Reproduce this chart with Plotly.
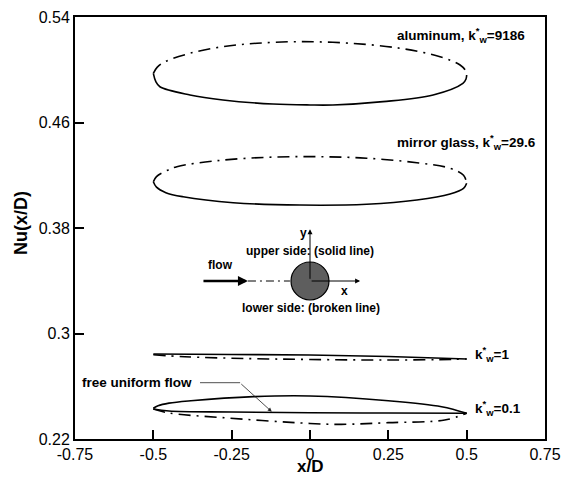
import plotly.graph_objects as go

# Local Nusselt number along the wall, upper (solid) and lower (broken) sides
alu_up_x = [-0.5, -0.488, -0.463, -0.383, -0.278, -0.169, -0.032, 0.128, 0.287, 0.415, 0.479, 0.496, 0.5]
alu_up_y = [0.4973, 0.5018, 0.5061, 0.5125, 0.5175, 0.5201, 0.5213, 0.5201, 0.5163, 0.5099, 0.5036, 0.4995, 0.4960]
alu_lo_x = [-0.5, -0.492, -0.479, -0.383, -0.278, -0.118, 0.0, 0.073, 0.233, 0.393, 0.488, 0.498, 0.5]
alu_lo_y = [0.4973, 0.4910, 0.4871, 0.4809, 0.4771, 0.4740, 0.4733, 0.4733, 0.4758, 0.4809, 0.4897, 0.4930, 0.4960]

gl_up_x = [-0.5, -0.49, -0.46, -0.425, -0.298, -0.138, 0.021, 0.181, 0.341, 0.447, 0.49, 0.5]
gl_up_y = [0.4151, 0.4190, 0.4232, 0.4265, 0.4310, 0.4336, 0.4341, 0.4329, 0.4295, 0.4253, 0.4200, 0.4139]
gl_lo_x = [-0.5, -0.49, -0.46, -0.405, -0.245, -0.032, 0.181, 0.341, 0.447, 0.49, 0.5]
gl_lo_y = [0.4151, 0.4110, 0.4068, 0.4037, 0.3992, 0.3974, 0.3980, 0.4012, 0.4058, 0.4100, 0.4139]

k1_up_x = [-0.5, -0.25, 0.0, 0.25, 0.5]
k1_up_y = [0.2845, 0.2841, 0.2837, 0.2826, 0.2807]
k1_lo_x = [-0.5, -0.4, -0.2, 0.0, 0.25, 0.45, 0.5]
k1_lo_y = [0.2839, 0.2824, 0.2810, 0.2803, 0.2799, 0.2803, 0.2807]

k01_up_x = [-0.5, -0.485, -0.45, -0.38, -0.18, 0.0, 0.25, 0.42, 0.5]
k01_up_y = [0.2433, 0.2452, 0.2472, 0.2490, 0.2521, 0.2526, 0.2490, 0.2445, 0.2395]
k01_lo_x = [-0.5, -0.45, -0.28, 0.0, 0.1, 0.25, 0.43, 0.5]
k01_lo_y = [0.2427, 0.2397, 0.2362, 0.2318, 0.2311, 0.2324, 0.2344, 0.2395]

free_x = [-0.5, -0.45, -0.25, 0.0, 0.25, 0.5]
free_y = [0.2427, 0.2412, 0.2405, 0.2399, 0.2397, 0.2395]

x_ticks = [-0.75, -0.5, -0.25, 0, 0.25, 0.5, 0.75]
x_ticktext = ["-0.75", "-0.5", "-0.25", "0", "0.25", "0.5", "0.75"]
y_ticks = [0.22, 0.3, 0.38, 0.46, 0.54]
y_ticktext = ["0.22", "0.3", "0.38", "0.46", "0.54"]

FONT = "Liberation Sans, Arial, Helvetica, sans-serif"
DASHDOT = "12px,6px,2px,6px"

fig = go.Figure()

def curve(xs, ys, dashed):
    fig.add_trace(go.Scatter(
        x=xs, y=ys, mode="lines",
        line=dict(color="black", width=1.6,
                  dash=DASHDOT if dashed else "solid",
                  shape="spline", smoothing=1.0),
        hoverinfo="skip", showlegend=False))

curve(alu_up_x, alu_up_y, True)
curve(alu_lo_x, alu_lo_y, False)
curve(gl_up_x, gl_up_y, True)
curve(gl_lo_x, gl_lo_y, False)
curve(k1_lo_x, k1_lo_y, True)
curve(k1_up_x, k1_up_y, False)
curve(k01_lo_x, k01_lo_y, True)
curve(k01_up_x, k01_up_y, False)
curve(free_x, free_y, False)

kw = "k<sup>*</sup><sub>w</sub>"
labels = [
    (0.271, 0.5264, "aluminum, " + kw + "=9186"),
    (0.271, 0.4454, "mirror glass, " + kw + "=29.6"),
    (0.520, 0.2845, kw + "=1"),
    (0.520, 0.2435, kw + "=0.1"),
    (-0.734, 0.2632, "free uniform flow"),
]
ann = []
for x, y, t in labels:
    ann.append(dict(x=x, y=y, text="<b>" + t + "</b>", showarrow=False,
                    xanchor="left", yanchor="middle",
                    font=dict(family=FONT, size=13.5, color="black")))

# cylinder sketch text
inset_text = [
    (0.0, 0.3625, "upper side: (solid line)"),
    (0.003, 0.3191, "lower side: (broken line)"),
    (-0.287, 0.3519, "flow"),
    (-0.021, 0.3764, "y"),
    (0.11, 0.3325, "x"),
]
for x, y, t in inset_text:
    ann.append(dict(x=x, y=y, text="<b>" + t + "</b>", showarrow=False,
                    xanchor="center", yanchor="middle",
                    font=dict(family=FONT, size=12, color="black")))

# arrows of the sketch
ann += [
    dict(x=0.0, y=0.379, ax=0, ay=51, text="", showarrow=True,
         arrowhead=2, arrowsize=1, arrowwidth=1, arrowcolor="black"),
    dict(x=0.16, y=0.3398, ax=-50, ay=0, text="", showarrow=True,
         arrowhead=2, arrowsize=1, arrowwidth=1, arrowcolor="black"),
    dict(x=-0.198, y=0.3398, ax=-46, ay=0, text="", showarrow=True,
         arrowhead=2, arrowsize=0.8, arrowwidth=2.5, arrowcolor="black"),
    dict(x=-0.122, y=0.2407, ax=-32, ay=-29, text="", showarrow=True,
         arrowhead=2, arrowsize=1, arrowwidth=0.8, arrowcolor="#222"),
]

# axis titles
ann += [
    dict(x=0.5, y=-0.0935, xref="paper", yref="paper", text="<b>x/D</b>",
         showarrow=False, xanchor="center", yanchor="bottom",
         font=dict(family=FONT, size=17, color="black")),
    dict(x=-0.115, y=0.512, xref="paper", yref="paper", text="<b>Nu(x/D)</b>",
         showarrow=False, textangle=-90, xanchor="center", yanchor="middle",
         font=dict(family=FONT, size=18, color="black")),
]

shapes = [
    dict(type="circle", xref="x", yref="y", xsizemode="pixel", ysizemode="pixel",
         xanchor=0.0, yanchor=0.3398, x0=-19, x1=19, y0=-19, y1=19,
         fillcolor="#5e5e5e", line=dict(color="black", width=1.2), layer="above"),
    dict(type="line", xref="x", yref="y", x0=-0.198, x1=-0.064,
         y0=0.3398, y1=0.3398, line=dict(color="black", width=1, dash="8px,4px,2px,4px")),
    dict(type="line", xref="x", yref="y", x0=-0.351, x1=-0.223,
         y0=0.2627, y1=0.2627, line=dict(color="#222", width=0.8)),
]

fig.update_layout(
    width=561, height=480,
    margin=dict(l=75, r=16, t=17, b=41),
    paper_bgcolor="white", plot_bgcolor="white",
    annotations=ann, shapes=shapes,
    font=dict(family=FONT, size=16, color="black"),
    xaxis=dict(range=[-0.75, 0.75], tickvals=x_ticks, ticktext=x_ticktext,
               ticks="inside", ticklen=9, tickwidth=2, tickcolor="black",
               showline=True, linewidth=2, linecolor="black", mirror=True,
               showgrid=False, zeroline=False, automargin=False,
               tickfont=dict(family=FONT, size=16, color="black")),
    yaxis=dict(range=[0.22, 0.54], tickvals=y_ticks, ticktext=y_ticktext,
               ticks="inside", ticklen=9, tickwidth=2, tickcolor="black",
               showline=True, linewidth=2, linecolor="black", mirror=True,
               showgrid=False, zeroline=False, automargin=False,
               tickfont=dict(family=FONT, size=16, color="black")),
)

fig.write_html("out.html")
